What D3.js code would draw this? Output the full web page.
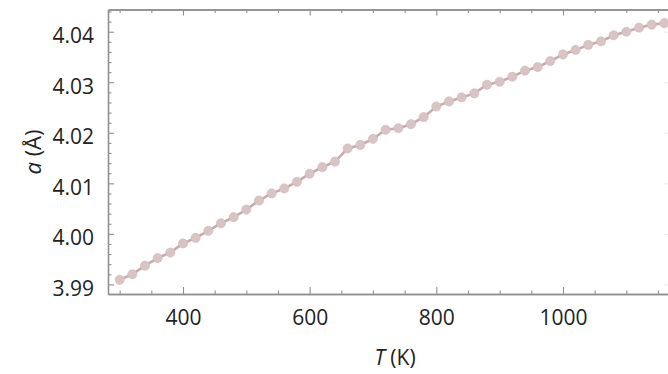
<!DOCTYPE html>
<html><head><meta charset="utf-8">
<script src="https://cdn.jsdelivr.net/npm/d3@7/dist/d3.min.js"></script>
<style>
html,body{margin:0;padding:0;background:#fff;}
svg{display:block;}
text{font-family:"Open Sans",sans-serif;fill:#222;}
</style></head>
<body>
<script>
// Data
const temperatures = [300,320,340,360,380,400,420,440,460,480,500,520,540,560,580,600,620,640,660,680,700,720,740,760,780,800,820,840,860,880,900,920,940,960,980,1000,1020,1040,1060,1080,1100,1120,1140,1160];
const latticeA = [3.9909,3.9920,3.9937,3.9952,3.9963,3.9981,3.9992,4.0006,4.0021,4.0033,4.0048,4.0066,4.0080,4.0090,4.0103,4.0119,4.0132,4.0143,4.0169,4.0176,4.0188,4.0206,4.0209,4.0217,4.0231,4.0252,4.0262,4.0270,4.0278,4.0295,4.0301,4.0311,4.0323,4.0330,4.0342,4.0355,4.0364,4.0374,4.0381,4.0393,4.0400,4.0408,4.0414,4.0417];
const xMajorTicks = [400,600,800,1000];
const xMinorTicks = [300,350,450,500,550,650,700,750,850,900,950,1050,1100,1150];
const yMajorTicks = [3.99,4.00,4.01,4.02,4.03,4.04];
const yMinorTicks = [3.992,3.994,3.996,3.998,4.002,4.004,4.006,4.008,4.012,4.014,4.016,4.018,4.022,4.024,4.026,4.028,4.032,4.034,4.036,4.038,4.042,4.044];
const xLabel = "T";
const yLabel = "a";

const W = 668, H = 374;
const L = 108, R = 669, T = 9.5, B = 294;
const x = d3.scaleLinear().domain([281.6, 1167.4]).range([L, R]);
const y = d3.scaleLinear().domain([3.9881, 4.0444]).range([B, T]);

const svg = d3.select("body").append("svg").attr("width", W).attr("height", H);
const axisColor = "#8f8f8f";

function styleAxis(g){
  g.select(".domain").attr("stroke", axisColor).attr("stroke-width", 1.3);
  g.selectAll(".tick line").attr("stroke", axisColor).attr("stroke-width", 1.1);
}

// bottom axis
const bMaj = svg.append("g").attr("transform",`translate(0,${B})`)
  .call(d3.axisBottom(x).tickValues(xMajorTicks).tickSizeInner(-7).tickSizeOuter(0).tickPadding(16).tickFormat(d3.format("d")));
styleAxis(bMaj);
bMaj.selectAll(".tick text").attr("font-size", 21).attr("fill","#222").attr("dy","0.71em");
const bMin = svg.append("g").attr("transform",`translate(0,${B})`)
  .call(d3.axisBottom(x).tickValues(xMinorTicks).tickSizeInner(-3.5).tickSizeOuter(0).tickFormat(""));
styleAxis(bMin);

// top axis
const tMaj = svg.append("g").attr("transform",`translate(0,${T})`)
  .call(d3.axisTop(x).tickValues(xMajorTicks).tickSizeInner(-6).tickSizeOuter(0).tickFormat(""));
styleAxis(tMaj);
const tMin = svg.append("g").attr("transform",`translate(0,${T})`)
  .call(d3.axisTop(x).tickValues(xMinorTicks).tickSizeInner(-3.5).tickSizeOuter(0).tickFormat(""));
styleAxis(tMin);

// left axis
const lMaj = svg.append("g").attr("transform",`translate(${L},0)`)
  .call(d3.axisLeft(y).tickValues(yMajorTicks).tickSizeInner(-6).tickSizeOuter(0).tickPadding(14).tickFormat(d3.format(".2f")));
styleAxis(lMaj);
lMaj.selectAll(".tick text").attr("font-size", 21).attr("fill","#222").attr("dy","0.52em");
const lMin = svg.append("g").attr("transform",`translate(${L},0)`)
  .call(d3.axisLeft(y).tickValues(yMinorTicks).tickSizeInner(-3.5).tickSizeOuter(0).tickFormat(""));
styleAxis(lMin);

// right axis (faint, at the cut edge)
const rMaj = svg.append("g").attr("transform",`translate(${R},0)`)
  .call(d3.axisRight(y).tickValues(yMajorTicks).tickSizeInner(-5).tickSizeOuter(0).tickFormat(""));
rMaj.select(".domain").attr("stroke","#eee");
rMaj.selectAll(".tick line").attr("stroke","#ececec");

// data
const pts = temperatures.map((t,i)=>({t, a: latticeA[i]}));
svg.append("path").datum(pts)
  .attr("fill","none").attr("stroke","#c7abad").attr("stroke-width",2.6)
  .attr("d", d3.line().x(d=>x(d.t)).y(d=>y(d.a)));
svg.append("g").selectAll("circle").data(pts).join("circle")
  .attr("cx", d=>x(d.t)).attr("cy", d=>y(d.a)).attr("r", 4.6)
  .attr("fill","#d8c4c5").attr("stroke","#d0b9ba").attr("stroke-width",0.6);

// axis titles
const xt = svg.append("text").attr("x", 395).attr("y", 365).attr("text-anchor","middle").attr("font-size", 21);
xt.append("tspan").attr("font-style","italic").text(xLabel);
xt.append("tspan").text(" (K)");
const yt = svg.append("text").attr("transform","translate(41,152) rotate(-90)").attr("text-anchor","middle").attr("font-size", 22);
yt.append("tspan").attr("font-style","italic").text(yLabel);
yt.append("tspan").text(" (Å)");
</script>
</body></html>
